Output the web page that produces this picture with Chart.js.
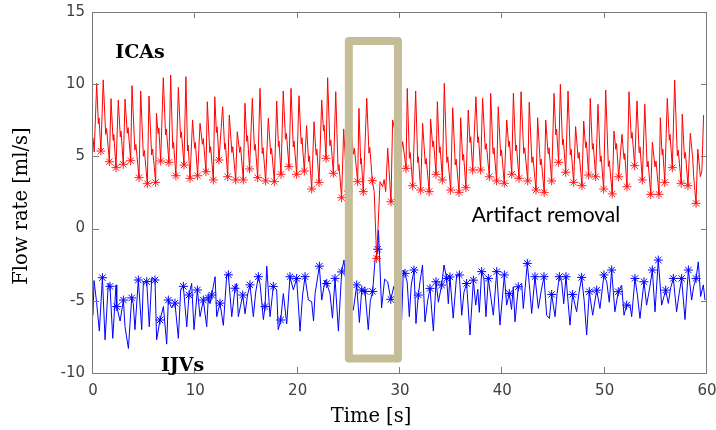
<!DOCTYPE html>
<html>
<head>
<meta charset="utf-8">
<script src="https://cdn.jsdelivr.net/npm/chart.js@4.4.1/dist/chart.umd.min.js"></script>
<style>
  html, body { margin: 0; padding: 0; background: #fff; }
</style>
</head>
<body>
<canvas id="flow" width="716" height="430"></canvas>
<script>
// ICA flow trace [time s, flow ml/s]
const icaTrace = [
  [0,6.3],[0.12,5.3],[0.36,10.06],[0.52,7.27],[0.59,7.67],
  [0.77,5.37],[1.0,10.3],[1.24,6.53],[1.33,6.93],
  [1.6,4.63],[1.76,9.0],[1.96,6.12],[2.03,6.52],
  [2.25,4.22],[2.47,8.9],[2.67,6.35],[2.74,6.75],
  [2.96,4.45],[3.13,8.97],[3.35,6.6],[3.43,7.0],
  [3.68,4.7],[3.81,9.9],[4.09,5.43],[4.19,5.83],
  [4.5,3.53],[4.66,9.53],[4.92,5.01],[5.02,5.41],
  [5.31,3.11],[5.47,9.18],[5.73,5.1],[5.83,5.5],
  [6.12,3.2],[6.2,7.98],[6.36,6.58],[6.43,6.98],
  [6.61,4.68],[6.87,10.45],[7.09,6.49],[7.17,6.89],
  [7.42,4.59],[7.59,10.64],[7.79,5.56],[7.87,5.96],
  [8.1,3.66],[8.34,9.78],[8.56,6.3],[8.64,6.7],
  [8.89,4.4],[9.08,10.52],[9.24,5.38],[9.3,5.78],
  [9.48,3.48],[9.73,7.52],[9.93,5.56],[10.0,5.96],
  [10.22,3.66],[10.46,7.29],[10.69,5.84],[10.78,6.24],
  [11.04,3.94],[11.17,8.79],[11.41,5.27],[11.49,5.67],
  [11.76,3.37],[11.9,9.13],[12.06,6.65],[12.13,7.05],
  [12.31,4.75],[12.67,8.44],[12.87,5.49],[12.94,5.89],
  [13.16,3.59],[13.32,7.87],[13.57,5.27],[13.66,5.67],
  [13.94,3.37],[14.1,6.71],[14.34,5.27],[14.42,5.67],
  [14.69,3.37],[14.85,8.68],[15.03,6.03],[15.1,6.43],
  [15.3,4.13],[15.57,9.02],[15.78,5.43],[15.86,5.83],
  [16.09,3.53],[16.32,9.71],[16.54,5.2],[16.62,5.6],
  [16.87,3.3],[17.13,7.64],[17.37,5.15],[17.45,5.55],
  [17.72,3.25],[17.95,8.84],[18.12,5.66],[18.18,6.06],
  [18.37,3.76],[18.59,9.53],[18.81,6.19],[18.9,6.59],
  [19.15,4.29],[19.35,9.71],[19.57,5.66],[19.65,6.06],
  [19.9,3.76],[20.13,9.2],[20.34,5.89],[20.42,6.29],
  [20.65,3.99],[20.87,7.13],[21.07,4.64],[21.15,5.04],
  [21.37,2.74],[21.6,7.4],[21.8,5.1],[21.87,5.5],
  [22.09,3.2],[22.35,8.9],[22.52,6.77],[22.58,7.17],
  [22.77,4.87],[22.93,10.45],[23.15,5.73],[23.24,6.13],
  [23.49,3.83],[23.72,9.48],[23.95,4.04],[24.03,4.44],
  [24.29,2.14],[24.5,6.9],[24.68,4.5],[24.75,4.9],
  [24.95,2.6],[25.15,7.0],[25.33,6.02],[25.45,5.15],[25.55,5.55],
  [25.86,3.25],[25.99,8.33],[26.16,4.46],[26.22,4.86],
  [26.41,2.56],[26.75,9.02],[26.97,5.22],[27.05,5.62],
  [27.29,3.32],[27.48,2.56],[27.72,-2.06],[28.05,3.25],[28.3,2.9],[28.45,3.4],[28.6,2.56],[28.8,5.56],
  [29.12,1.86],[29.28,7.52],[29.6,6.5],[29.9,5.5],[30.05,5.0],[30.26,6.02],
  [30.59,4.17],[30.71,9.71],[30.92,4.87],[31.0,5.27],
  [31.24,2.97],[31.53,9.53],[31.73,4.57],[31.8,4.97],
  [32.02,2.67],[32.21,7.29],[32.47,4.46],[32.56,4.86],
  [32.85,2.56],[32.99,7.59],[33.2,5.66],[33.28,6.06],
  [33.52,3.76],[33.65,8.79],[33.85,5.27],[33.92,5.67],
  [34.14,3.37],[34.33,10.06],[34.58,4.57],[34.67,4.97],
  [34.95,2.67],[35.15,8.37],[35.4,4.41],[35.49,4.81],
  [35.77,2.51],[35.93,7.68],[36.13,4.73],[36.21,5.13],
  [36.44,2.83],[36.67,8.21],[36.84,5.96],[36.91,6.36],
  [37.1,4.06],[37.42,9.13],[37.6,5.96],[37.67,6.36],
  [37.88,4.06],[38.07,9.02],[38.33,5.49],[38.43,5.89],
  [38.73,3.59],[38.86,9.37],[39.09,5.2],[39.18,5.6],
  [39.44,3.3],[39.6,8.44],[39.84,5.04],[39.92,5.44],
  [40.19,3.14],[40.43,7.52],[40.63,5.66],[40.7,6.06],
  [40.92,3.76],[41.08,9.37],[41.3,5.38],[41.38,5.78],
  [41.63,3.48],[41.83,9.48],[42.09,5.2],[42.19,5.6],
  [42.48,3.3],[42.63,8.75],[42.89,4.57],[42.99,4.97],
  [43.29,2.67],[43.45,7.68],[43.71,4.41],[43.8,4.81],
  [44.09,2.51],[44.24,7.52],[44.47,5.2],[44.56,5.6],
  [44.82,3.3],[45.05,9.37],[45.23,6.49],[45.3,6.89],
  [45.5,4.59],[45.67,9.99],[45.88,5.8],[45.96,6.2],
  [46.19,3.9],[46.42,9.53],[46.64,5.1],[46.72,5.5],
  [46.97,3.2],[47.16,7.06],[47.41,4.87],[47.5,5.27],
  [47.78,2.97],[47.95,7.45],[48.14,5.61],[48.21,6.01],
  [48.43,3.71],[48.59,9.02],[48.8,5.49],[48.88,5.89],
  [49.12,3.59],[49.35,8.61],[49.57,4.64],[49.65,5.04],
  [49.9,2.74],[50.1,9.6],[50.36,4.3],[50.45,4.7],
  [50.74,2.4],[50.91,6.76],[51.09,5.49],[51.16,5.89],
  [51.37,3.59],[51.69,6.53],[51.89,4.8],[51.96,5.2],
  [52.18,2.9],[52.38,9.48],[52.6,6.26],[52.68,6.66],
  [52.93,4.36],[53.16,8.84],[53.37,5.27],[53.45,5.67],
  [53.68,3.37],[53.92,8.61],[54.15,4.27],[54.24,4.67],
  [54.5,2.37],[54.66,5.98],[54.92,4.27],[55.02,4.67],
  [55.31,2.37],[55.44,7.68],[55.61,5.1],[55.68,5.5],
  [55.87,3.2],[56.12,9.02],[56.32,6.12],[56.39,6.52],
  [56.61,4.22],[56.84,10.29],[57.1,5.04],[57.19,5.44],
  [57.48,3.14],[57.58,7.92],[57.8,4.87],[57.89,5.27],
  [58.14,2.97],[58.37,6.6],[58.6,4.9],[58.7,3.6],
  [58.93,1.75],[59.1,5.5],[59.35,3.6],[59.5,4.0],[59.67,7.87]
];

// detected ICA troughs
const icaMarks = [
  [0.77,5.37],[1.6,4.63],[2.25,4.22],[2.96,4.45],[3.68,4.7],[4.5,3.53],[5.31,3.11],[6.12,3.2],
  [6.61,4.68],[7.42,4.59],[8.1,3.66],[8.89,4.4],[9.48,3.48],[10.22,3.66],[11.04,3.94],[11.76,3.37],
  [12.31,4.75],[13.16,3.59],[13.94,3.37],[14.69,3.37],[15.3,4.13],[16.09,3.53],[16.87,3.3],[17.72,3.25],
  [18.37,3.76],[19.15,4.29],[19.9,3.76],[20.65,3.99],[21.37,2.74],[22.09,3.2],[22.77,4.87],[23.49,3.83],
  [24.29,2.14],[24.95,2.6],[25.86,3.25],[26.41,2.56],[27.29,3.32],[27.72,-2.06],[29.12,1.86],
  [30.59,4.17],[31.24,2.97],[32.02,2.67],[32.85,2.56],[33.52,3.76],[34.14,3.37],[34.95,2.67],[35.77,2.51],
  [36.44,2.83],[37.1,4.06],[37.88,4.06],[38.73,3.59],[39.44,3.3],[40.19,3.14],[40.92,3.76],[41.63,3.48],
  [42.48,3.3],[43.29,2.67],[44.09,2.51],[44.82,3.3],[45.5,4.59],[46.19,3.9],[46.97,3.2],[47.78,2.97],
  [48.43,3.71],[49.12,3.59],[49.9,2.74],[50.74,2.4],[51.37,3.59],[52.18,2.9],[52.93,4.36],[53.68,3.37],
  [54.5,2.37],[55.31,2.37],[55.87,3.2],[56.61,4.22],[57.48,3.14],[58.14,2.97],[58.93,1.75]
];

// IJV flow trace [time s, flow ml/s]
const ijvTrace = [
  [0,-6.0],[0.1,-3.6],[0.35,-5.1],[0.62,-7.1],[0.92,-3.4],[1.18,-7.7],[1.5,-3.8],[1.66,-4.0],
  [1.93,-7.6],[2.25,-3.9],[2.32,-5.4],[2.65,-6.4],[2.97,-4.95],[3.13,-6.8],[3.46,-8.3],[3.78,-4.8],
  [3.94,-5.2],[4.1,-7.0],[4.43,-3.56],[4.76,-7.0],[4.92,-3.7],[5.25,-3.67],[5.5,-6.8],[5.74,-3.4],
  [6.06,-3.56],[6.22,-7.7],[6.55,-6.33],[6.88,-5.4],[7.2,-8.0],[7.36,-4.95],[7.69,-5.5],[8.01,-5.16],
  [8.34,-7.6],[8.57,-4.25],[8.83,-4.0],[9.16,-6.8],[9.38,-4.6],[9.64,-3.8],[9.87,-7.0],[10.2,-4.25],
  [10.46,-6.1],[10.78,-4.95],[11.11,-6.8],[11.27,-4.8],[11.44,-5.2],[11.6,-4.6],[11.93,-3.33],[12.09,-6.1],
  [12.41,-5.16],[12.74,-6.7],[13.07,-3.2],[13.23,-3.2],[13.56,-6.1],[13.88,-4.13],[14.04,-3.8],[14.2,-6.1],
  [14.63,-4.6],[14.86,-5.9],[15.1,-4.6],[15.34,-3.9],[15.67,-6.1],[15.9,-4.4],[16.16,-3.33],[16.32,-3.8],
  [16.65,-6.3],[16.81,-5.4],[16.98,-2.6],[17.3,-6.1],[17.62,-4.0],[17.95,-4.25],[18.1,-7.0],[18.34,-6.33],
  [18.6,-4.5],[18.93,-6.6],[19.25,-3.33],[19.58,-4.25],[19.9,-3.45],[20.23,-7.1],[20.48,-4.6],[20.72,-3.33],
  [21.05,-4.95],[21.37,-5.06],[21.55,-6.4],[21.7,-4.5],[22.12,-2.6],[22.35,-4.95],[22.68,-3.56],[22.84,-3.8],
  [23.16,-4.5],[23.4,-6.2],[23.65,-3.45],[23.98,-7.1],[24.3,-3.0],[24.53,-2.17],[24.9,-5.5],[25.44,-5.64],
  [25.77,-3.9],[26.03,-6.5],[26.26,-4.25],[26.58,-4.35],[26.9,-7.0],[27.1,-5.0],[27.33,-4.35],[27.56,-2.17],
  [27.82,-1.43],[27.9,-0.1],[28.2,-5.5],[28.5,-3.5],[28.8,-3.7],[29.1,-4.9],[29.4,-4.0],[29.7,-5.5],[30.0,-4.5],
  [30.16,-6.3],[30.33,-2.87],[30.49,-3.1],[30.7,-3.7],[30.91,-6.1],[31.1,-3.9],[31.37,-2.87],[31.56,-6.57],
  [31.79,-4.6],[31.95,-3.7],[32.2,-2.52],[32.44,-6.45],[32.7,-5.0],[32.93,-4.14],[33.26,-7.1],[33.52,-3.68],
  [33.75,-5.1],[34.07,-3.91],[34.3,-2.52],[34.56,-3.45],[34.72,-5.2],[34.88,-3.35],[35.2,-6.2],[35.54,-3.2],
  [35.8,-3.21],[36.03,-6.0],[36.25,-4.4],[36.51,-3.8],[36.84,-7.37],[37.17,-3.57],[37.4,-5.3],[37.6,-4.2],
  [37.75,-5.8],[37.98,-2.98],[38.2,-3.45],[38.4,-6.1],[38.63,-3.45],[38.85,-4.6],[39.12,-6.0],[39.45,-2.98],
  [39.77,-6.68],[40.2,-3.21],[40.42,-5.3],[40.68,-4.49],[40.9,-5.6],[41.07,-4.03],[41.24,-6.45],[41.56,-4.03],
  [41.89,-3.8],[42.05,-5.53],[42.44,-2.41],[42.7,-4.37],[42.87,-5.87],[43.19,-3.33],[43.52,-5.53],[43.8,-4.3],
  [44.07,-3.33],[44.33,-6.0],[44.6,-6.22],[44.82,-4.56],[45.15,-6.1],[45.35,-4.5],[45.57,-3.33],[45.8,-3.68],
  [46.0,-5.2],[46.22,-3.33],[46.61,-6.68],[46.87,-4.56],[47.26,-5.76],[47.5,-4.4],[47.75,-3.38],[48.0,-5.0],
  [48.24,-7.37],[48.5,-4.37],[48.83,-6.0],[49.22,-4.26],[49.54,-5.53],[49.93,-3.21],[50.2,-3.68],[50.45,-5.1],
  [50.68,-2.87],[51.0,-5.76],[51.33,-4.37],[51.66,-3.91],[51.89,-6.0],[52.15,-5.3],[52.48,-5.3],[52.64,-6.1],
  [52.96,-3.45],[53.2,-4.6],[53.45,-6.22],[53.84,-3.68],[54.1,-5.3],[54.4,-4.1],[54.66,-2.87],[54.92,-5.76],
  [55.24,-2.18],[55.57,-5.3],[55.96,-4.26],[56.22,-5.18],[56.45,-4.1],[56.71,-3.45],[57.03,-5.76],[57.3,-4.4],
  [57.52,-3.45],[57.85,-6.3],[58.18,-2.87],[58.5,-4.95],[58.7,-4.0],[58.93,-3.45],[59.15,-2.3],[59.38,-4.7],
  [59.64,-3.9],[59.8,-4.95]
];

// detected IJV peaks
const ijvMarks = [
  [0.92,-3.4],[1.66,-4.0],[2.32,-5.4],[2.97,-4.95],[3.78,-4.8],[4.43,-3.56],[5.25,-3.67],[6.06,-3.56],
  [6.55,-6.33],[7.36,-4.95],[8.01,-5.16],[8.83,-4.0],[9.38,-4.6],[10.2,-4.25],[10.78,-4.95],[11.27,-4.8],
  [11.6,-4.6],[12.41,-5.16],[13.23,-3.2],[13.88,-4.13],[14.63,-4.6],[15.34,-3.9],[16.16,-3.33],[16.81,-5.4],
  [17.62,-4.0],[18.34,-6.33],[19.25,-3.33],[19.9,-3.45],[20.72,-3.33],[22.12,-2.6],[22.84,-3.8],[23.65,-3.45],
  [24.3,-3.0],[25.77,-3.9],[26.26,-4.25],[26.58,-4.35],[27.33,-4.35],[27.82,-1.43],[29.1,-4.9],
  [30.49,-3.1],[31.37,-2.87],[31.79,-4.6],[32.93,-4.14],[33.52,-3.68],[34.07,-3.91],[34.56,-3.45],[34.88,-3.35],
  [35.8,-3.21],[36.51,-3.8],[37.17,-3.57],[37.98,-2.98],[38.63,-3.45],[39.45,-2.98],[40.2,-3.21],[40.68,-4.49],
  [41.56,-4.03],[42.44,-2.41],[43.19,-3.33],[44.07,-3.33],[44.82,-4.56],[45.57,-3.33],[46.22,-3.33],[46.87,-4.56],
  [47.75,-3.38],[48.5,-4.37],[49.22,-4.26],[49.93,-3.21],[50.68,-2.87],[51.33,-4.37],[52.15,-5.3],[52.96,-3.45],
  [53.84,-3.68],[54.66,-2.87],[55.24,-2.18],[55.96,-4.26],[56.71,-3.45],[57.52,-3.45],[58.18,-2.87],[58.93,-3.45]
];

const timeTicks = [0, 10, 20, 30, 40, 50, 60];
const flowTicks = [-10, -5, 0, 5, 10, 15];

// window around the removed artifact (data units)
const artifactWindow = { t0: 25, t1: 29.8, v0: -9, v1: 13 };

const toPoints = (arr) => arr.map(([t, v]) => ({ x: t, y: v }));

const tickFont = { family: "DejaVu Sans", size: 15 };
const tickColor = "#404040";

// box frame, inward ticks, artifact window and labels
const decorations = {
    id: "decorations",
    afterDatasetsDraw(chart) {
        const { ctx, chartArea: a, scales: { x, y } } = chart;
        ctx.save();

        // artifact window
        ctx.strokeStyle = "#c4bd97";
        ctx.lineWidth = 8;
        ctx.lineJoin = "round";
        const bx0 = x.getPixelForValue(artifactWindow.t0);
        const bx1 = x.getPixelForValue(artifactWindow.t1);
        const by0 = y.getPixelForValue(artifactWindow.v1);
        const by1 = y.getPixelForValue(artifactWindow.v0);
        ctx.strokeRect(bx0, by0, bx1 - bx0, by1 - by0);

        // axes box
        ctx.strokeStyle = "#7a7a7a";
        ctx.lineWidth = 1;
        ctx.lineJoin = "miter";
        ctx.strokeRect(a.left - 0.5, a.top + 0.5, a.right - a.left, a.bottom - a.top);

        ctx.beginPath();
        timeTicks.forEach((t) => {
            const px = Math.round(x.getPixelForValue(t)) - 0.5;
            ctx.moveTo(px, a.bottom);
            ctx.lineTo(px, a.bottom - 6);
            ctx.moveTo(px, a.top);
            ctx.lineTo(px, a.top + 6);
        });
        flowTicks.forEach((v) => {
            const py = Math.round(y.getPixelForValue(v)) + 0.5;
            ctx.moveTo(a.left, py);
            ctx.lineTo(a.left + 6, py);
            ctx.moveTo(a.right, py);
            ctx.lineTo(a.right - 6, py);
        });
        ctx.stroke();

        // series labels
        ctx.fillStyle = "#000";
        ctx.textBaseline = "middle";
        ctx.textAlign = "center";
        ctx.font = "bold 19px 'DejaVu Serif'";
        ctx.fillText("ICAs", x.getPixelForValue(4.6), y.getPixelForValue(12.15));
        ctx.fillText("IJVs", x.getPixelForValue(8.75), y.getPixelForValue(-9.5));
        ctx.textAlign = "left";
        ctx.font = "21px Lato";
        ctx.fillText("Artifact removal", x.getPixelForValue(37.0), y.getPixelForValue(0.95));

        // axis titles
        ctx.font = "19.5px 'DejaVu Serif'";
        ctx.textAlign = "center";
        ctx.fillText("Time [s]", 371, 417);
        ctx.translate(22, 206);
        ctx.rotate(-Math.PI / 2);
        ctx.fillText("Flow rate [ml/s]", 0, 0);
        ctx.restore();
    },
};

const ctx = document.getElementById("flow");

new Chart(ctx, {
    type: "scatter",
    data: {
        datasets: [
            {
                label: "ICAs",
                data: toPoints(icaTrace),
                showLine: true,
                borderColor: "#ff0000",
                borderWidth: 1,
                pointRadius: 0,
                tension: 0,
            },
            {
                label: "ICA troughs",
                data: toPoints(icaMarks),
                showLine: false,
                pointStyle: "star",
                pointRadius: 4.5,
                borderColor: "#ff2020",
                borderWidth: 1,
            },
            {
                label: "IJVs",
                data: toPoints(ijvTrace),
                showLine: true,
                borderColor: "#0000ff",
                borderWidth: 1,
                pointRadius: 0,
                tension: 0,
            },
            {
                label: "IJV peaks",
                data: toPoints(ijvMarks),
                showLine: false,
                pointStyle: "star",
                pointRadius: 4.5,
                borderColor: "#0000ff",
                borderWidth: 1,
            },
        ],
    },
    options: {
        responsive: false,
        animation: false,
        layout: { padding: { left: 0, right: 9, top: 12, bottom: 0 } },
        plugins: {
            legend: { display: false },
            tooltip: { enabled: false },
        },
        scales: {
            x: {
                type: "linear",
                min: 0,
                max: 60,
                afterBuildTicks: (scale) => {
                    scale.ticks = timeTicks.map((v) => ({ value: v }));
                },
                afterFit: (scale) => {
                    scale.height = 57;
                    scale.paddingLeft = 0;
                    scale.paddingRight = 0;
                },
                ticks: { font: tickFont, color: tickColor, padding: 9 },
                grid: { display: false, drawTicks: false },
                border: { display: false },
            },
            y: {
                min: -10,
                max: 15,
                afterBuildTicks: (scale) => {
                    scale.ticks = flowTicks.map((v) => ({ value: v }));
                },
                afterFit: (scale) => {
                    scale.width = 93;
                    scale.paddingTop = 0;
                    scale.paddingBottom = 0;
                },
                ticks: { font: tickFont, color: tickColor, padding: 8 },
                grid: { display: false, drawTicks: false },
                border: { display: false },
            },
        },
    },
    plugins: [decorations],
});
</script>
</body>
</html>
